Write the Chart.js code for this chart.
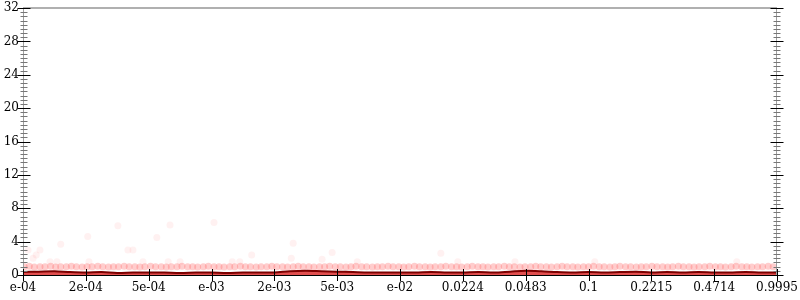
<!DOCTYPE html>
<html><head><meta charset="utf-8">
<script src="https://cdn.jsdelivr.net/npm/chart.js@4"></script>
<style>html,body{margin:0;padding:0;background:#fff}#wrap{width:800px;height:300px;position:relative}</style>
</head><body><div id="wrap"><canvas id="c"></canvas></div>
<script>
const xTickLabels = ['e-04','2e-04','5e-04','e-03','2e-03','5e-03','e-02','0.0224','0.0483','0.1','0.2215','0.4714','0.9995'];
const yTickValues = [0,4,8,12,16,20,24,28,32];

// median line (x in tick-index units)
const lineX = [0,0.25,0.5,0.75,1,1.25,1.5,1.75,2,2.25,2.5,2.75,3,3.25,3.5,3.75,4,4.25,4.5,4.75,5,5.25,5.5,5.75,6,6.25,6.5,6.75,7,7.25,7.5,7.75,8,8.25,8.5,8.75,9,9.25,9.5,9.75,10,10.25,10.5,10.75,11,11.25,11.5,11.75,12];
const lineY = [0.35,0.4,0.45,0.35,0.3,0.35,0.25,0.3,0.3,0.3,0.25,0.3,0.3,0.25,0.3,0.3,0.3,0.45,0.5,0.45,0.4,0.35,0.3,0.3,0.3,0.3,0.35,0.3,0.3,0.35,0.3,0.4,0.5,0.45,0.35,0.3,0.35,0.3,0.35,0.4,0.3,0.35,0.3,0.35,0.3,0.3,0.35,0.3,0.3];

// dense band of samples near 1
const bandPoints = [
[0.02,1.0],[0.1,1.05],[0.18,0.95],[0.27,1.0],[0.35,1.0],[0.44,1.05],[0.52,0.95],[0.6,1.0],[0.69,1.0],[0.77,1.05],
[0.85,1.0],[0.94,0.95],[1.02,1.0],[1.1,1.0],[1.19,1.05],[1.27,1.0],[1.36,0.95],[1.44,1.0],[1.52,1.0],[1.61,1.05],
[1.69,1.0],[1.78,1.0],[1.86,0.95],[1.94,1.0],[2.03,1.05],[2.11,1.0],[2.2,1.0],[2.28,0.95],[2.36,1.0],[2.45,1.0],
[2.53,1.05],[2.62,1.0],[2.7,1.0],[2.78,0.95],[2.87,1.0],[2.95,1.05],[3.04,1.0],[3.12,1.0],[3.2,0.95],[3.29,1.0],
[3.37,1.0],[3.46,1.05],[3.54,1.0],[3.62,1.0],[3.71,0.95],[3.79,1.0],[3.88,1.0],[3.96,1.05],[4.04,1.0],[4.13,1.0],
[4.21,0.95],[4.3,1.0],[4.38,1.05],[4.46,1.0],[4.55,1.0],[4.63,0.95],[4.72,1.0],[4.8,1.0],[4.88,1.05],[4.97,1.0],
[5.05,1.0],[5.14,0.95],[5.22,1.0],[5.3,1.05],[5.39,1.0],[5.47,1.0],[5.56,0.95],[5.64,1.0],[5.72,1.0],[5.81,1.05],
[5.89,1.0],[5.98,1.0],[6.06,0.95],[6.14,1.0],[6.23,1.05],[6.31,1.0],[6.4,1.0],[6.48,0.95],[6.56,1.0],[6.65,1.0],
[6.73,1.05],[6.82,1.0],[6.9,1.0],[6.98,0.95],[7.07,1.0],[7.15,1.05],[7.24,1.0],[7.32,1.0],[7.4,0.95],[7.49,1.0],
[7.57,1.0],[7.66,1.05],[7.74,1.0],[7.82,1.0],[7.91,0.95],[7.99,1.0],[8.08,1.0],[8.16,1.05],[8.24,1.0],[8.33,1.0],
[8.41,0.95],[8.5,1.0],[8.58,1.05],[8.66,1.0],[8.75,1.0],[8.83,0.95],[8.92,1.0],[9.0,1.0],[9.08,1.05],[9.17,1.0],
[9.25,1.0],[9.34,0.95],[9.42,1.0],[9.5,1.05],[9.59,1.0],[9.67,1.0],[9.76,0.95],[9.84,1.0],[9.92,1.0],[10.01,1.05],
[10.09,1.0],[10.18,1.0],[10.26,0.95],[10.34,1.0],[10.43,1.05],[10.51,1.0],[10.6,1.0],[10.68,0.95],[10.76,1.0],[10.85,1.0],
[10.93,1.05],[11.02,1.0],[11.1,1.0],[11.18,0.95],[11.27,1.0],[11.35,1.05],[11.44,1.0],[11.52,1.0],[11.6,0.95],[11.69,1.0],
[11.77,1.0],[11.86,1.05],[11.94,1.0]
];

// sparse outlier samples
const outlierX = [1.51,2.34,1.03,2.13,0.60,0.27,0.21,0.16,0.08,1.67,1.75,0.43,0.54,1.05,1.91,2.31,2.50,3.04,4.30,3.64,4.92,4.27,4.76,3.33,3.45,5.32,6.65,6.92,7.83,9.10,11.36];
const outlierY = [5.9,6.0,4.6,4.5,3.7,3.0,2.4,2.0,3.0,3.0,3.0,1.6,1.6,1.6,1.6,1.6,1.6,6.3,3.8,2.4,2.7,2.0,1.9,1.6,1.6,1.6,2.6,1.6,1.6,1.6,1.6];

const FONT = {family:'"DejaVu Serif", serif', size:12};

const axisPlugin = {
  id:'axisDeco',
  afterDatasetsDraw(chart){
    const {ctx, chartArea:a, scales:{x,y}} = chart;
    ctx.save();
    const ln=(x1,y1,x2,y2)=>{ctx.beginPath();ctx.moveTo(x1,y1);ctx.lineTo(x2,y2);ctx.stroke();};
    ctx.strokeStyle='#b0b0b0'; ctx.lineWidth=2;
    ln(a.left,a.top,a.right,a.top);
    ctx.strokeStyle='#a0a0a0'; ctx.lineWidth=1;
    ln(a.left+0.5,a.top,a.left+0.5,a.bottom);
    ln(a.right-0.5,a.top,a.right-0.5,a.bottom);
    for(let k=0;k<=64;k++){
      const v=k*0.5; const py=Math.round(y.getPixelForValue(v))+0.5;
      const major = (k%8===0);
      ctx.strokeStyle = major ? '#000' : '#777';
      const h = major ? 6 : 3;
      for(const ax of [a.left+0.5, a.right-0.5]) ln(ax-h,py,ax+h+1,py);
    }
    ctx.strokeStyle='#000'; ctx.lineWidth=1;
    ln(a.left,a.bottom+0.5,a.right,a.bottom+0.5);
    xTickLabels.forEach((l,i)=>{
      const px=Math.round(x.getPixelForValue(i))+0.5;
      ln(px,a.bottom-6,px,a.bottom+6);
    });
    ctx.restore();
  }
};

new Chart(document.getElementById('c'),{
  type:'line',
  data:{datasets:[
    {type:'line', data:lineX.map((v,i)=>({x:v,y:lineY[i]})), borderColor:'#7d0000', borderWidth:2,
     backgroundColor:'rgba(215,20,20,0.75)', fill:'origin', pointRadius:0, tension:0.3, order:1},
    {type:'scatter', data:bandPoints.map(p=>({x:p[0],y:p[1]})), backgroundColor:'rgba(255,90,90,0.3)',
     borderWidth:0, pointRadius:3.5, order:2},
    {type:'scatter', data:outlierX.map((v,i)=>({x:v,y:outlierY[i]})), backgroundColor:'rgba(255,140,140,0.12)',
     borderWidth:0, pointRadius:3.5, order:3}
  ]},
  options:{
    responsive:true, maintainAspectRatio:false, animation:false,
    layout:{padding:{top:8,right:23,left:0,bottom:0}},
    plugins:{legend:{display:false},tooltip:{enabled:false}},
    scales:{
      x:{type:'linear',min:0,max:12,
        afterBuildTicks:s=>{s.ticks=xTickLabels.map((l,i)=>({value:i}));},
        ticks:{callback:v=>xTickLabels[Math.round(v)],autoSkip:false,maxRotation:0,padding:6,color:'#000',font:FONT},
        grid:{display:false,drawTicks:false},border:{display:false},
        afterFit:s=>{s.height=25;s.paddingLeft=0;s.paddingRight=0;}
      },
      y:{min:0,max:32,
        afterBuildTicks:s=>{s.ticks=yTickValues.map(v=>({value:v}));},
        ticks:{padding:4,color:'#000',font:FONT},
        grid:{display:false,drawTicks:false},border:{display:false},
        afterFit:s=>{s.width=23;s.paddingTop=0;s.paddingBottom=0;}
      }
    }
  },
  plugins:[axisPlugin]
});
</script></body></html>
